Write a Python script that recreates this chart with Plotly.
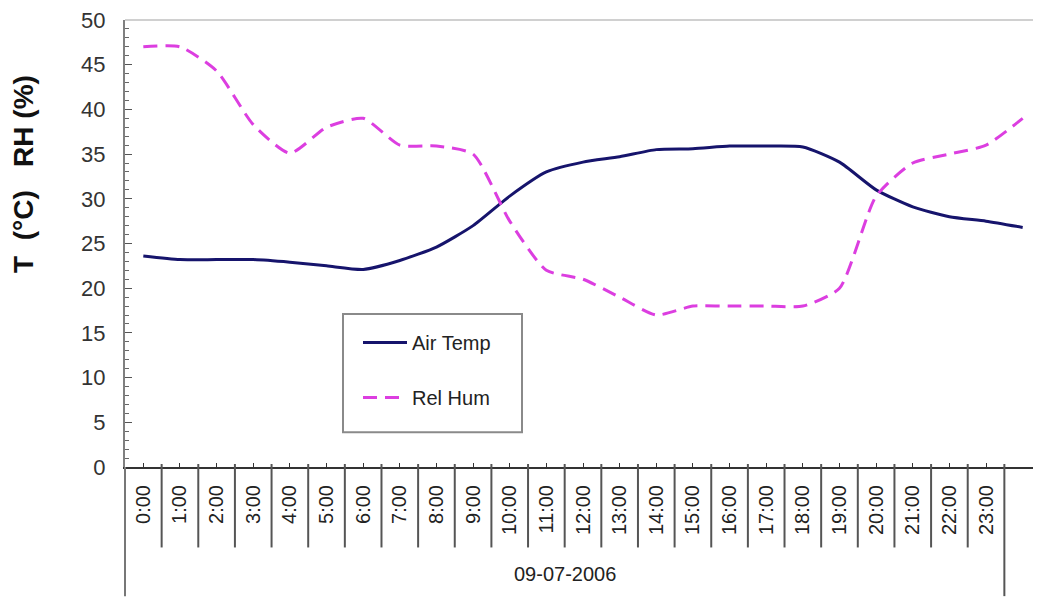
import plotly.graph_objects as go

hours = [0, 1, 2, 3, 4, 5, 6, 7, 8, 9, 10, 11, 12, 13, 14, 15, 16, 17, 18, 19, 20, 21, 22, 23, 24]
time_labels = ["0:00", "1:00", "2:00", "3:00", "4:00", "5:00", "6:00", "7:00", "8:00", "9:00",
               "10:00", "11:00", "12:00", "13:00", "14:00", "15:00", "16:00", "17:00", "18:00",
               "19:00", "20:00", "21:00", "22:00", "23:00"]
air_temp = [23.6, 23.2, 23.2, 23.2, 22.9, 22.5, 22.1, 23.1, 24.6, 27.0, 30.3, 33.0, 34.1, 34.7,
            35.5, 35.6, 35.9, 35.9, 35.8, 34.1, 31.0, 29.1, 28.0, 27.5, 26.8]
rel_hum = [47, 47, 44.3, 38.3, 35.1, 38, 39, 36, 35.9, 35, 27.5, 22, 21, 19, 17, 18, 18, 18, 18,
           20, 30.3, 34, 35, 36, 39]
date_label = "09-07-2006"
y_ticks = [0, 5, 10, 15, 20, 25, 30, 35, 40, 45, 50]

OFF = 8  # page body margin
W, H = 1041 - OFF, 601 - OFF
L, R, T, B = 125 - OFF, 0, 17 - OFF, 134
pw, ph = W - L - R, H - T - B

def px_x(p):
    return (p - OFF - L) / pw

def px_y(p):
    return (H - B - (p - OFF)) / ph

fig = go.Figure()
fig.add_trace(go.Scatter(
    x=hours, y=air_temp, name="Air Temp", mode="lines", legendgroup="a",
    line=dict(color="#16146C", width=3, shape="spline", smoothing=0.6)))
fig.add_trace(go.Scatter(
    x=hours, y=rel_hum, name="Rel Hum", mode="lines", legendgroup="b",
    line=dict(color="#DC3EE0", width=3, dash="14px,8px", shape="spline", smoothing=0.6)))

shapes = []
# category separators below the axis
for i in range(len(time_labels) - 1):
    shapes.append(dict(type="line", xref="x", yref="paper", x0=i + 0.5, x1=i + 0.5,
                       y0=px_y(464), y1=px_y(548), line=dict(color="#555555", width=2)))
# group separators
shapes.append(dict(type="line", xref="x", yref="paper", x0=len(time_labels) - 0.5,
                   x1=len(time_labels) - 0.5, y0=px_y(464), y1=px_y(597),
                   line=dict(color="#555555", width=2)))
shapes.append(dict(type="line", xref="paper", yref="paper", x0=0, x1=0,
                   y0=0, y1=px_y(597), line=dict(color="#777777", width=2)))
# top border
shapes.append(dict(type="line", xref="paper", yref="paper", x0=0, x1=1, y0=1, y1=1,
                   line=dict(color="#D0D0D0", width=2)))
# legend box
shapes.append(dict(type="rect", xref="paper", yref="paper",
                   x0=px_x(343), x1=px_x(522), y0=px_y(432), y1=px_y(313),
                   line=dict(color="#8A8A8A", width=2), fillcolor="rgba(0,0,0,0)"))

fig.update_layout(
    width=W, height=H,
    margin=dict(l=L, r=R, t=T, b=B, pad=0),
    paper_bgcolor="white", plot_bgcolor="white",
    font=dict(family="Liberation Sans, Arial, sans-serif", color="#333333"),
    showlegend=True,
    legend=dict(x=px_x(358), y=px_y(322), xanchor="left", yanchor="top",
                bgcolor="rgba(0,0,0,0)", borderwidth=0, itemwidth=44,
                font=dict(size=20, color="#222222"), traceorder="grouped",
                tracegroupgap=26),
    shapes=shapes,
    annotations=[
        dict(text="<b>T  (°C)   RH (%)</b>", xref="paper", yref="paper",
             x=px_x(24), y=px_y(172), xanchor="center", yanchor="middle",
             textangle=-90, showarrow=False, font=dict(size=28, color="#111111")),
        dict(text=date_label, xref="x", yref="paper", x=11.5, y=px_y(575),
             xanchor="center", yanchor="middle", showarrow=False,
             font=dict(size=20, color="#222222")),
    ],
)
fig.update_xaxes(
    range=[-0.5, 24.5], tickmode="array", tickvals=hours[:len(time_labels)],
    ticktext=time_labels, tickangle=-90, showgrid=False, zeroline=False,
    showline=True, linecolor="#333333", linewidth=2,
    ticks="inside", ticklen=4, tickcolor="#333333", tickwidth=1,
    ticklabelstandoff=8, tickfont=dict(size=20, color="#222222"))
fig.update_yaxes(
    range=[0, 50], tickmode="array", tickvals=y_ticks, showgrid=False, zeroline=False,
    showline=True, linecolor="#808080", linewidth=2, ticklabeloverflow="allow",
    ticks="inside", ticklen=7, tickcolor="#555555", tickwidth=1,
    minor=dict(dtick=1, ticks="inside", ticklen=4, tickcolor="#666666", tickwidth=1),
    ticklabelstandoff=13, tickfont=dict(size=22, color="#333333"))

fig.write_html("out.html")
